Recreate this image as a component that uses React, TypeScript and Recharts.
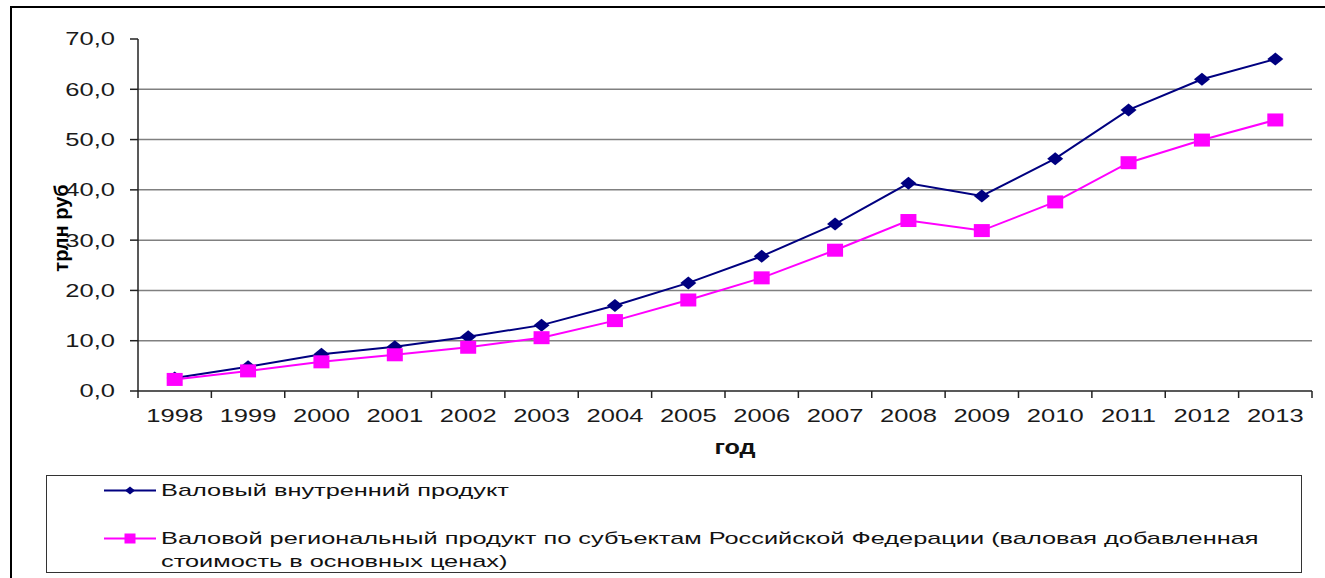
import React from 'react';
import { LineChart, Line, XAxis, YAxis, ReferenceLine, Legend } from 'recharts';

// data, трлн руб
const years = ['1998', '1999', '2000', '2001', '2002', '2003', '2004', '2005', '2006', '2007', '2008', '2009', '2010', '2011', '2012', '2013'];
const gdp = [2.6, 4.8, 7.3, 8.8, 10.8, 13.1, 17.0, 21.5, 26.8, 33.2, 41.3, 38.8, 46.2, 55.9, 62.0, 66.0];
const grp = [2.3, 4.0, 5.8, 7.2, 8.7, 10.6, 14.0, 18.1, 22.5, 28.0, 33.9, 31.9, 37.6, 45.4, 49.9, 53.9];
const yTicks = [0, 10, 20, 30, 40, 50, 60, 70];
const gridValues = [10, 20, 30, 40, 50, 60];
const seriesKeys = ['gdp', 'grp'];
const seriesNames = [
  'Валовый внутренний продукт',
  'Валовой региональный продукт по субъектам Российской Федерации (валовая добавленная\nстоимость в основных ценах)',
];
const yLabel = 'трлн руб';
const xLabel = 'год';

const NAVY = '#000080';
const MAGENTA = '#FF00FF';
const FONT = '"Liberation Sans", Arial, sans-serif';
const STRETCH = 1.42;
const LEGEND_STRETCH = 1.49;

const W = 1325;
const H = 578;
const Y_AXIS_W = 138;
const RIGHT = 13;
const PLOT_W = W - Y_AXIS_W - RIGHT;
const HALF_BAND = PLOT_W / years.length / 2;

const data = years.map((year, i) => ({ year, gdp: gdp[i], grp: grp[i] }));

const fmt = (v: number) => v.toFixed(1).replace('.', ',');

const YTick = (props: any) => {
  const { x, y, payload } = props;
  return (
    <text
      transform={`translate(${x},${y}) scale(${STRETCH},1)`}
      textAnchor="end"
      dy="0.36em"
      fontSize={18}
      fontFamily={FONT}
      fill="#1a1a1a"
    >
      {fmt(payload.value)}
    </text>
  );
};

const XTick = (props: any) => {
  const { x, y, payload } = props;
  const last = payload.value === years[years.length - 1];
  return (
    <g>
      <line x1={x - HALF_BAND} y1={y - 7} x2={x - HALF_BAND} y2={y} stroke="#222" strokeWidth={1.5} />
      {last && <line x1={x + HALF_BAND} y1={y - 7} x2={x + HALF_BAND} y2={y} stroke="#222" strokeWidth={1.5} />}
      <text
        transform={`translate(${x},${y + 24}) scale(${STRETCH},1)`}
        textAnchor="middle"
        fontSize={18}
        fontFamily={FONT}
        fill="#1a1a1a"
      >
        {payload.value}
      </text>
    </g>
  );
};

const Diamond = (props: any) => {
  const { cx, cy } = props;
  if (cx == null || cy == null) return null;
  return <polygon points={`${cx},${cy - 6.5} ${cx + 8},${cy} ${cx},${cy + 6.5} ${cx - 8},${cy}`} fill={NAVY} />;
};

const Square = (props: any) => {
  const { cx, cy } = props;
  if (cx == null || cy == null) return null;
  return <rect x={cx - 8} y={cy - 6.5} width={16} height={13} fill={MAGENTA} />;
};

const renderLegend = (props: any) => {
  const items = [...(props.payload || [])].sort(
    (a: any, b: any) => seriesKeys.indexOf(a.dataKey) - seriesKeys.indexOf(b.dataKey)
  );
  return (
    <div
      style={{
        position: 'relative',
        width: '100%',
        height: '100%',
        boxSizing: 'border-box',
        border: '1.5px solid #333',
        background: '#fff',
        fontFamily: FONT,
        fontSize: 17,
        color: '#111',
      }}
    >
      {items.map((entry: any, i: number) => {
        const top = i === 0 ? 3 : 51;
        const isDiamond = entry.dataKey === 'gdp';
        return (
          <div key={entry.dataKey} style={{ position: 'absolute', left: 0, top, width: '100%' }}>
            <svg width={56} height={23} style={{ position: 'absolute', left: 55, top: 0 }}>
              <line x1={2} y1={11.5} x2={54} y2={11.5} stroke={entry.color} strokeWidth={2} />
              {isDiamond ? (
                <polygon points="28,7.5 33,11.5 28,15.5 23,11.5" fill={entry.color} />
              ) : (
                <rect x={22.5} y={6.5} width={11} height={10} fill={entry.color} />
              )}
            </svg>
            <div
              style={{
                position: 'absolute',
                left: 114,
                top: 0,
                whiteSpace: 'pre',
                lineHeight: '23px',
                transform: `scaleX(${LEGEND_STRETCH})`,
                transformOrigin: 'left top',
              }}
            >
              {entry.value}
            </div>
          </div>
        );
      })}
    </div>
  );
};

export default function App() {
  return (
    <div style={{ position: 'absolute', left: 0, top: 0, width: W, height: H, background: '#fff', overflow: 'hidden' }}>
      <div
        style={{
          position: 'absolute',
          left: 10,
          top: 6,
          width: W - 10,
          height: H - 6,
          borderTop: '2px solid #000',
          borderLeft: '2px solid #000',
          boxSizing: 'border-box',
        }}
      />
      <div style={{ position: 'absolute', left: 0, top: 0 }}>
        <LineChart width={W} height={H} data={data} margin={{ top: 39, right: RIGHT, left: 0, bottom: 10 }}>
          {gridValues.map((v) => (
            <ReferenceLine key={v} y={v} stroke="#808080" strokeWidth={1.5} />
          ))}
          <XAxis
            dataKey="year"
            height={79}
            padding={{ left: HALF_BAND, right: HALF_BAND }}
            axisLine={{ stroke: '#222', strokeWidth: 1.5 }}
            tickLine={false}
            tickSize={7}
            tickMargin={0}
            interval={0}
            tick={<XTick />}
            label={(p: any) => {
              const vb = p.viewBox;
              return (
                <text
                  transform={`translate(${vb.x + vb.width / 2 + 10},${vb.y + 63}) scale(1.2,1)`}
                  textAnchor="middle"
                  fontSize={21}
                  fontWeight="bold"
                  fontFamily={FONT}
                  fill="#111"
                >
                  {xLabel}
                </text>
              );
            }}
          />
          <YAxis
            width={Y_AXIS_W}
            domain={[0, 70]}
            ticks={yTicks}
            interval={0}
            axisLine={{ stroke: '#222', strokeWidth: 1.5 }}
            tickLine={{ stroke: '#222', strokeWidth: 1.5 }}
            tickSize={8}
            tickMargin={15}
            tick={<YTick />}
            label={(p: any) => {
              const vb = p.viewBox;
              const cx = vb.x + 61;
              const cy = vb.y + vb.height / 2 + 13;
              return (
                <text
                  transform={`translate(${cx},${cy}) rotate(-90)`}
                  textAnchor="middle"
                  dy="0.35em"
                  fontSize={20}
                  fontWeight="bold"
                  fontFamily={FONT}
                  fill="#000"
                >
                  {yLabel}
                </text>
              );
            }}
          />
          <Line
            dataKey="gdp"
            name={seriesNames[0]}
            stroke={NAVY}
            strokeWidth={2}
            dot={<Diamond />}
            activeDot={false}
            isAnimationActive={false}
          />
          <Line
            dataKey="grp"
            name={seriesNames[1]}
            stroke={MAGENTA}
            strokeWidth={2}
            dot={<Square />}
            activeDot={false}
            isAnimationActive={false}
          />
          <Legend
            verticalAlign="bottom"
            content={renderLegend}
            wrapperStyle={{ left: 46, top: 475, bottom: 'auto', width: 1256, height: 98 }}
          />
        </LineChart>
      </div>
    </div>
  );
}
